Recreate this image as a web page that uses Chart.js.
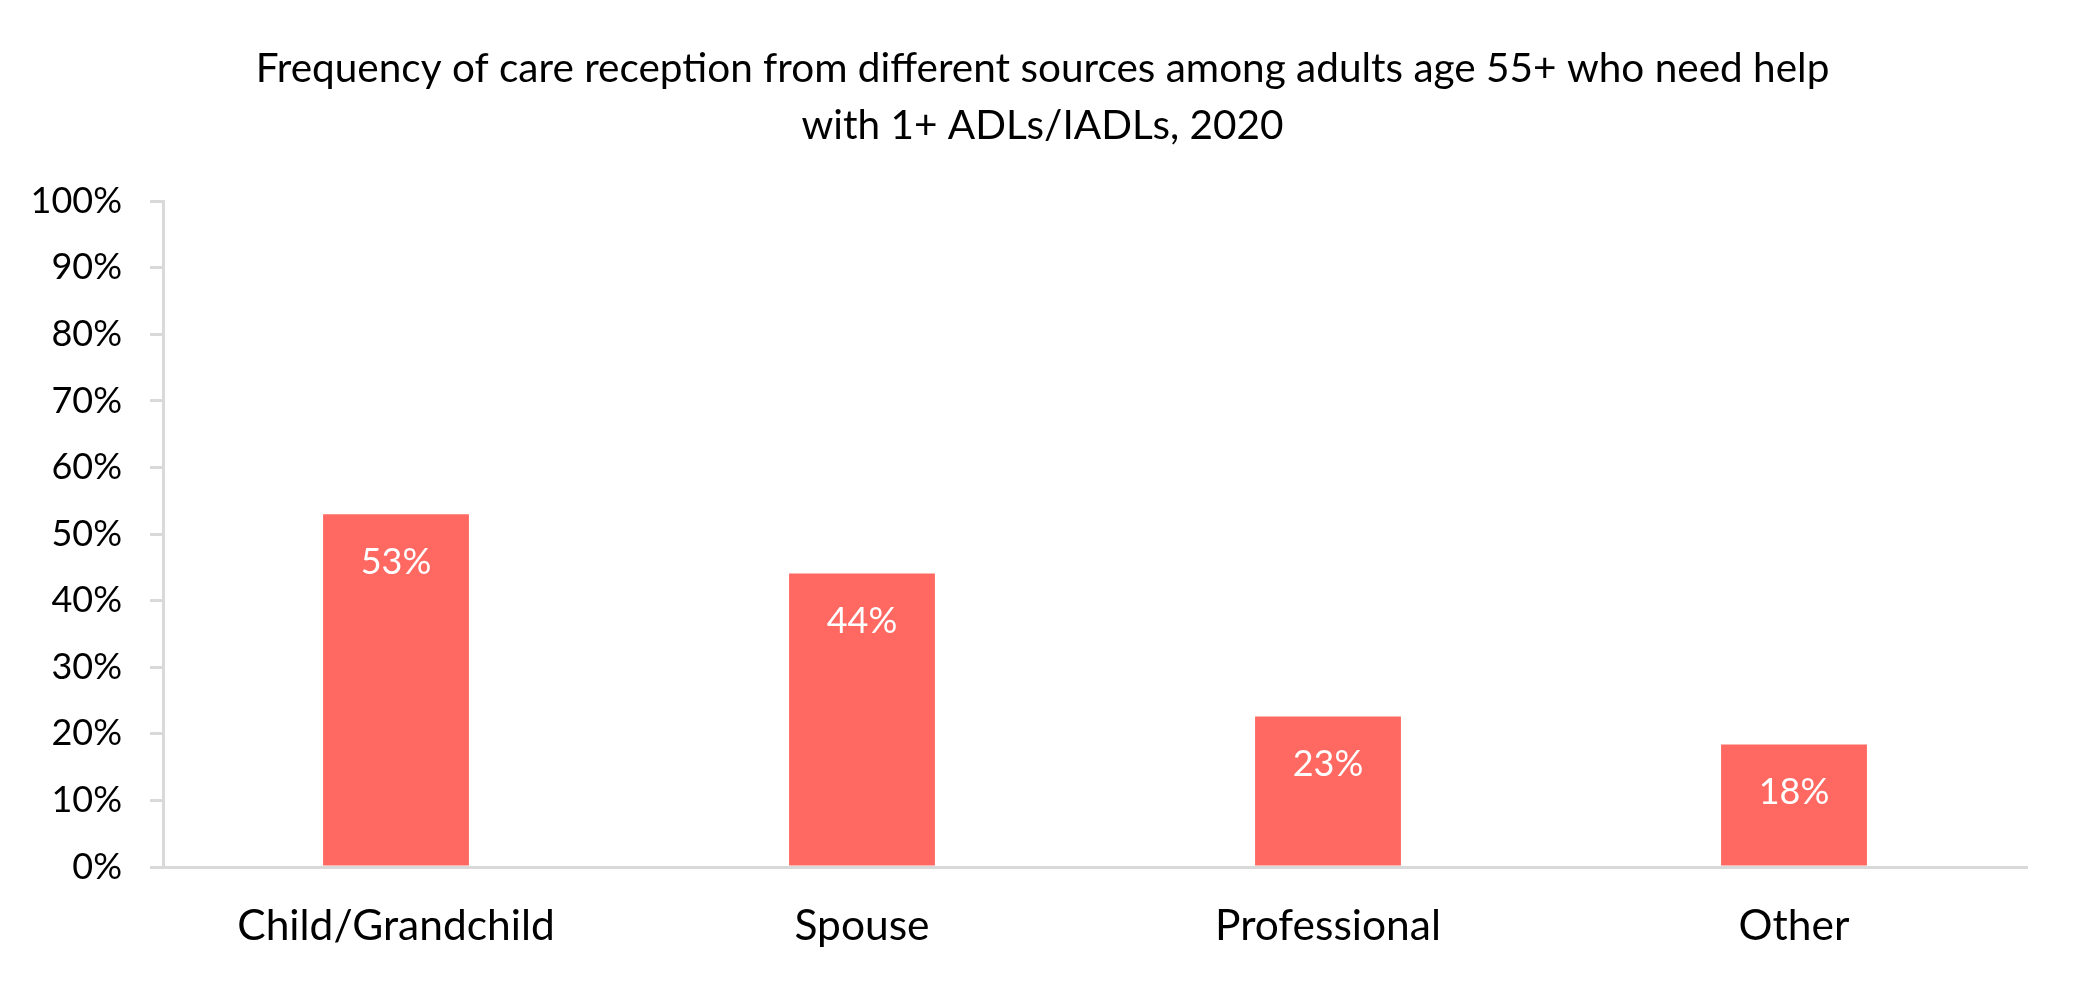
<!DOCTYPE html>
<html>
<head>
<meta charset="utf-8">
<script src="https://cdn.jsdelivr.net/npm/chart.js@4"></script>
<style>
html,body{margin:0;padding:0;background:#fff;}
#wrap{width:2085px;height:985px;}
</style>
</head>
<body>
<div id="wrap"><canvas id="c" width="2085" height="985"></canvas></div>
<script>
const titleLines = ["Frequency of care reception from different sources among adults age 55+ who need help", "with 1+ ADLs/IADLs, 2020"];
const categories = ["Child/Grandchild", "Spouse", "Professional", "Other"];
const values = [53.0, 44.1, 22.6, 18.4];
const yTicks = [0, 10, 20, 30, 40, 50, 60, 70, 80, 90, 100];

const FONT = "Lato, 'Open Sans', sans-serif";
const BAR = "#FF6961";
const AXIS = "#D9D9D9";

const labelPlugin = {
  id: 'barLabels',
  afterDatasetsDraw(chart) {
    const ctx = chart.ctx;
    const meta = chart.getDatasetMeta(0);
    ctx.save();
    ctx.fillStyle = "#FFFFFF";
    ctx.font = "36px " + FONT;
    ctx.textAlign = "center";
    ctx.textBaseline = "middle";
    meta.data.forEach((el, i) => {
      ctx.fillText(Math.round(values[i]) + "%", el.x, el.y + 48);
    });
    ctx.restore();
  }
};

new Chart(document.getElementById('c'), {
  type: 'bar',
  data: {
    labels: categories,
    datasets: [{
      data: values,
      backgroundColor: BAR,
      borderWidth: 0,
      categoryPercentage: 1.0,
      barPercentage: 0.313
    }]
  },
  options: {
    responsive: false,
    animation: false,
    devicePixelRatio: 1,
    layout: { padding: { left: 0, right: 0, top: 0, bottom: 0 } },
    plugins: {
      legend: { display: false },
      tooltip: { enabled: false },
      title: {
        display: true,
        text: titleLines,
        color: "#000",
        font: { family: FONT, size: 40.5, lineHeight: 1.41, weight: 'normal' },
        padding: { top: 40, bottom: 47 }
      }
    },
    scales: {
      x: {
        grid: { display: false, drawTicks: false },
        border: { display: true, color: AXIS, width: 3 },
        ticks: { color: "#000", font: { family: FONT, size: 42.5 }, padding: 34, maxRotation: 0 },
        afterFit(s) { s.height = 118; }
      },
      y: {
        min: 0, max: 100,
        afterBuildTicks(s) { s.ticks = yTicks.map(v => ({ value: v })); },
        grid: { display: true, drawOnChartArea: false, drawTicks: true, tickLength: 13, color: AXIS, lineWidth: 3 },
        border: { display: true, color: AXIS, width: 3 },
        ticks: { color: "#000", font: { family: FONT, size: 36 }, padding: 28, callback: v => v + "%" },
        afterFit(s) { s.width = 163; }
      },
      yRight: {
        position: 'right',
        display: true,
        grid: { display: false, drawTicks: false },
        border: { display: false },
        ticks: { display: false },
        afterFit(s) { s.width = 58; }
      }
    }
  },
  plugins: [labelPlugin]
});
</script>
</body>
</html>
